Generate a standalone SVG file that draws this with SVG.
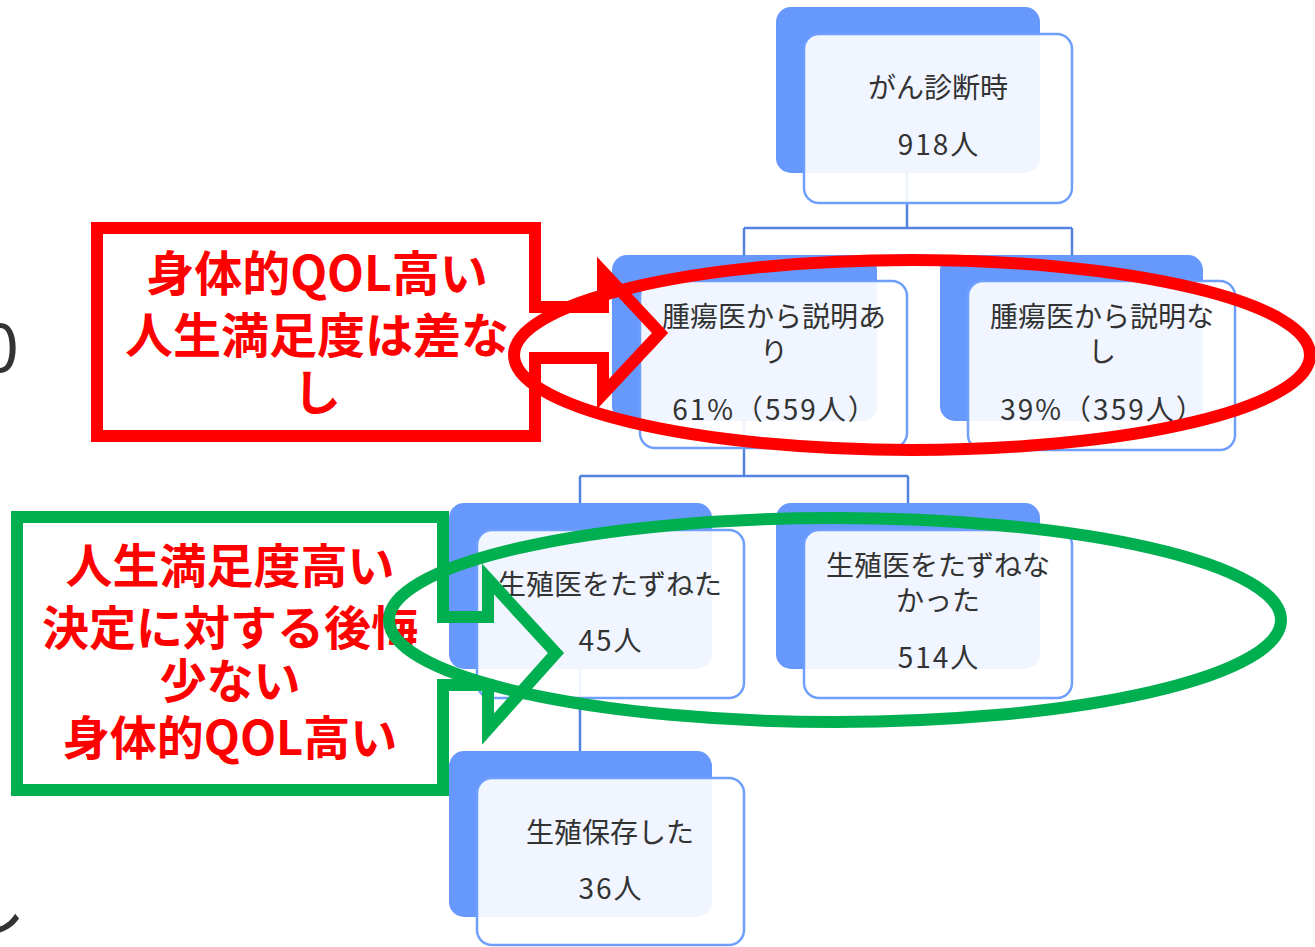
<svg xmlns="http://www.w3.org/2000/svg" width="1315" height="947" viewBox="0 0 1315 947">
<style>
.back{fill:#6698fe;}
.front{fill:#ffffff;fill-opacity:0.9;stroke:#6f9ffd;stroke-width:2.5;}
.t{font-family:"Noto Sans CJK JP","Noto Sans",sans-serif;font-size:28px;fill:#333333;text-anchor:middle;}
.n{letter-spacing:2px;}
.c{fill:none;stroke:#5282de;stroke-width:2.5;}
.red{font-family:"Noto Sans CJK JP",sans-serif;font-weight:bold;font-size:47px;fill:#ff0000;text-anchor:middle;}
.edge{font-family:"Noto Sans CJK JP","Noto Sans",sans-serif;font-size:68px;fill:#333333;text-anchor:end;}
</style>
<rect width="1315" height="947" fill="#ffffff"/>
<text class="edge" x="19" y="372">0</text>
<text class="edge" x="26" y="930">し</text>
<g id="connectors">
<path class="c" d="M907,173 V228 M744,228 H1072 M744,228 V255 M1072,228 V255"/>
<path class="c" d="M744,421 V476 M580,476 H908 M580,476 V503 M908,476 V503"/>
<path class="c" d="M580,669 V751"/>
</g>
<g id="n1">
<rect class="back" x="776" y="7" width="264" height="166" rx="15"/>
<rect class="front" x="804" y="34" width="268" height="169" rx="15"/>
<text class="t" x="938" y="98">がん診断時</text>
<text class="t n" x="939" y="155">918人</text>
</g>
<g id="n2">
<rect class="back" x="612" y="255" width="265" height="166" rx="15"/>
<rect class="front" x="640" y="281" width="267" height="167" rx="15"/>
<text class="t" x="774" y="327">腫瘍医から説明あ</text>
<text class="t" x="774" y="362">り</text>
<text class="t n" x="775" y="420">61%（559人）</text>
</g>
<g id="n3">
<rect class="back" x="940" y="255" width="263" height="166" rx="15"/>
<rect class="front" x="968" y="281" width="267" height="169" rx="15"/>
<text class="t" x="1102" y="327">腫瘍医から説明な</text>
<text class="t" x="1102" y="362">し</text>
<text class="t n" x="1103" y="420">39%（359人）</text>
</g>
<g id="n4">
<rect class="back" x="449" y="503" width="263" height="166" rx="15"/>
<rect class="front" x="477" y="530" width="267" height="168" rx="15"/>
<text class="t" x="610" y="595">生殖医をたずねた</text>
<text class="t n" x="611" y="651">45人</text>
</g>
<g id="n5">
<rect class="back" x="776" y="503" width="264" height="166" rx="15"/>
<rect class="front" x="804" y="530" width="268" height="168" rx="15"/>
<text class="t" x="938" y="576">生殖医をたずねな</text>
<text class="t" x="938" y="611">かった</text>
<text class="t n" x="939" y="668">514人</text>
</g>
<g id="n6">
<rect class="back" x="449" y="751" width="263" height="166" rx="15"/>
<rect class="front" x="477" y="778" width="267" height="167" rx="15"/>
<text class="t" x="610" y="843">生殖保存した</text>
<text class="t n" x="611" y="899">36人</text>
</g>
<g id="callout-red">
<path d="M97,228 H535 V307 H603 V272 L660,333 L603,394 V358 H535 V436 H97 Z" fill="none" stroke="#ff0000" stroke-width="12"/>
<text class="red" x="317" y="291" style="font-size:48px">身体的QOL高い</text>
<text class="red" x="317" y="353" style="font-size:48px">人生満足度は差な</text>
<text class="red" x="317" y="410" style="font-size:48px">し</text>
</g>
<g id="callout-green">
<path d="M17,517 H443 V617 H488 V579 L556,653 L488,729 V685 H443 V790 H17 Z" fill="none" stroke="#00b050" stroke-width="12"/>
<text class="red" x="230" y="583">人生満足度高い</text>
<text class="red" x="230" y="645">決定に対する後悔</text>
<text class="red" x="230" y="698">少ない</text>
<text class="red" x="230" y="755">身体的QOL高い</text>
</g>
<g id="highlights">
<ellipse cx="912" cy="355" rx="398" ry="95" fill="none" stroke="#ff0000" stroke-width="12"/>
<ellipse cx="835" cy="620" rx="446" ry="102" fill="none" stroke="#00b050" stroke-width="12"/>
</g>
</svg>
